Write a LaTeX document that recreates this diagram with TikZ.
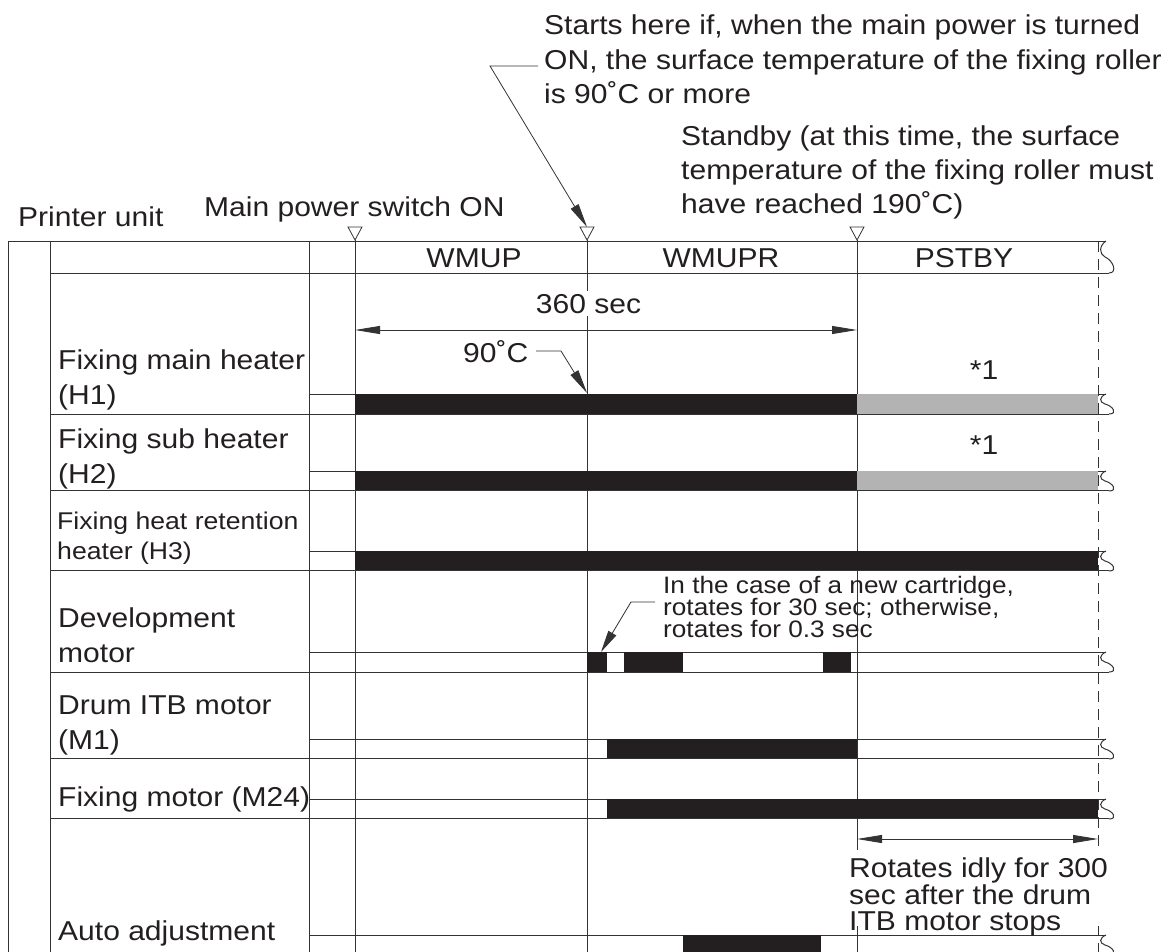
\documentclass[tikz,border=0pt]{standalone}
\usepackage{fontspec}
\setmainfont{Liberation Sans}[FakeStretch=1.1]
\usetikzlibrary{arrows.meta}
\definecolor{barblk}{HTML}{231F20}
\definecolor{bargry}{HTML}{B3B3B3}
\definecolor{lncol}{HTML}{333333}
\begin{document}
\begin{tikzpicture}[x=1pt,y=-1pt,
  ln/.style={draw=lncol,line width=1pt},
  thinln/.style={draw=lncol,line width=0.8pt},
  lbl/.style={inner sep=0pt,anchor=base west,font=\fontsize{27.3}{32}\selectfont,text=barblk},
  lblc/.style={lbl,anchor=base},
  sml/.style={lbl,font=\fontsize{24.2}{28}\selectfont},
  note/.style={lbl,font=\fontsize{23.8}{26}\selectfont},
  onbar/.style={fill=barblk},
  offbar/.style={fill=bargry},
  tip/.style={-{Triangle[length=24pt,width=9pt]}},
  dimarr/.style={{Triangle[length=25pt,width=8pt]}-{Triangle[length=25pt,width=8pt]}},
  pics/brk/.style={code={\draw[ln] (0,0) .. controls (-7,{0.15*#1}) and (-7,{0.4*#1}) .. (-1,{0.5*#1}) .. controls (7,{0.6*#1}) and (12,{#1}) .. (3,#1);}},
  pics/tri/.style={code={\draw[thinln,fill=white] (-7,0) -- (7,0) -- (0,13) -- cycle;}}
]
\useasboundingbox (0,0) rectangle (1164,952);
\clip (0,0) rectangle (1164,952);

% vertical lines
\draw[ln] (8,241) -- (8,960);
\draw[ln] (50,241) -- (50,960);
\draw[ln] (309,241) -- (309,960);
\draw[ln] (355,240) -- (355,960);
\draw[ln] (587,240) -- (587,960);
\draw[ln] (857,240) -- (857,960);
\draw[ln,dash pattern=on 11pt off 7pt] (1098,241) -- (1098,960);

% header row
\draw[ln] (8,241) -- (1106,241);
\draw[ln] (50,273) -- (1109,273);
\pic at (1106,241) {brk=32};

% signal rows
\foreach \s/\b in {394/414,471/490,551/570,652/672,739/758,799/818,935/955} {
  \draw[ln] (309,\s) -- (1106,\s);
  \draw[ln] (50,\b) -- (1109,\b);
  \pic at (1106,\s) {brk=20};
}

% bars
\fill[onbar] (355,394) rectangle (857,414);
\fill[offbar] (857,394) rectangle (1098,414);
\fill[onbar] (355,471) rectangle (857,490);
\fill[offbar] (857,471) rectangle (1098,490);
\fill[onbar] (355,551) rectangle (1098,570);
\fill[onbar] (587,652) rectangle (607,672);
\fill[onbar] (624,652) rectangle (683,672);
\fill[onbar] (823,652) rectangle (851,672);
\fill[onbar] (607,739) rectangle (857,758);
\fill[onbar] (607,799) rectangle (1098,818);
\fill[onbar] (683,935) rectangle (821,955);

% event markers
\coordinate (ev1) at (355,227);
\coordinate (ev2) at (587,227);
\coordinate (ev3) at (857,227);
\pic at (ev1) {tri};
\pic at (ev2) {tri};
\pic at (ev3) {tri};

% top texts
\node[lbl] (pu) at (18,226) {Printer unit};
\node[lbl] (mps) at (204,216) {Main power switch ON};
\node[lbl] (st1) at (544,35) {Starts here if, when the main power is turned};
\node[lbl] (st2) at (544,70) {ON, the surface temperature of the fixing roller};
\node[lbl] (st3) at (544,104) {is 90˚C or more};
\node[lbl] (sb1) at (681,146) {Standby (at this time, the surface};
\node[lbl] (sb2) at (681,180) {temperature of the fixing roller must};
\node[lbl] (sb3) at (681,214) {have reached 190˚C)};
\coordinate (stA) at (538,66);
\coordinate (stB) at (490,66);
\draw[thinln,tip] (stA) -- (stB) -- (ev2);

% header labels
\node[lblc] (hwmup) at (474,267) {WMUP};
\node[lblc] (hwmupr) at (721,267) {WMUPR};
\node[lblc] (hpstby) at (964,267) {PSTBY};

% 360 sec
\coordinate (d360l) at (355,330);
\coordinate (d360r) at (857,330);
\draw[thinln,dimarr] (d360l) -- (d360r);
\node[lblc,fill=white,inner xsep=1pt,inner ysep=3pt] (t360) at (588.5,313) {360 sec};

% 90 C
\node[lbl] (t90) at (463,362) {90˚C};
\coordinate (c90a) at (536,351);
\coordinate (c90b) at (561,351);
\coordinate (c90c) at (587,393);
\draw[thinln,tip] (c90a) -- (c90b) -- (c90c);

\node[lblc] (s1a) at (984,379) {*1};
\node[lblc] (s1b) at (984,454) {*1};

% row labels
\node[lbl] (h1a) at (58,369) {Fixing main heater};
\node[lbl] (h1b) at (58,404) {(H1)};
\node[lbl] (h2a) at (58,448) {Fixing sub heater};
\node[lbl] (h2b) at (58,483) {(H2)};
\node[sml] (h3a) at (57,529) {Fixing heat retention};
\node[sml] (h3b) at (57,559) {heater (H3)};
\node[lbl] (dva) at (58,627) {Development};
\node[lbl] (dvb) at (58,662) {motor};
\node[lbl] (dra) at (58,714) {Drum ITB motor};
\node[lbl] (drb) at (58,749) {(M1)};
\node[lbl] (fxm) at (58,806) {Fixing motor (M24)};
\node[lbl] (aut) at (58,940) {Auto adjustment};

% development note
\node[note] (dn1) at (663,593) {In the case of a new cartridge,};
\node[note] (dn2) at (663,615) {rotates for 30 sec; otherwise,};
\node[note] (dn3) at (663,637) {rotates for 0.3 sec};
\coordinate (dnA) at (655,602);
\coordinate (dnB) at (631,602);
\coordinate (dnC) at (601,652);
\draw[thinln,-{Triangle[length=22pt,width=9pt]}] (dnA) -- (dnB) -- (dnC);

% idle rotation
\coordinate (idl) at (857,839);
\coordinate (idr) at (1098,839);
\draw[thinln,dimarr] (idl) -- (idr);
\fill[white] (845,850) rectangle (1110,926);
\node[lbl] (ir1) at (849,877) {Rotates idly for 300};
\node[lbl] (ir2) at (849,904) {sec after the drum};
\node[lbl] (ir3) at (849,930) {ITB motor stops};
\end{tikzpicture}
\end{document}
